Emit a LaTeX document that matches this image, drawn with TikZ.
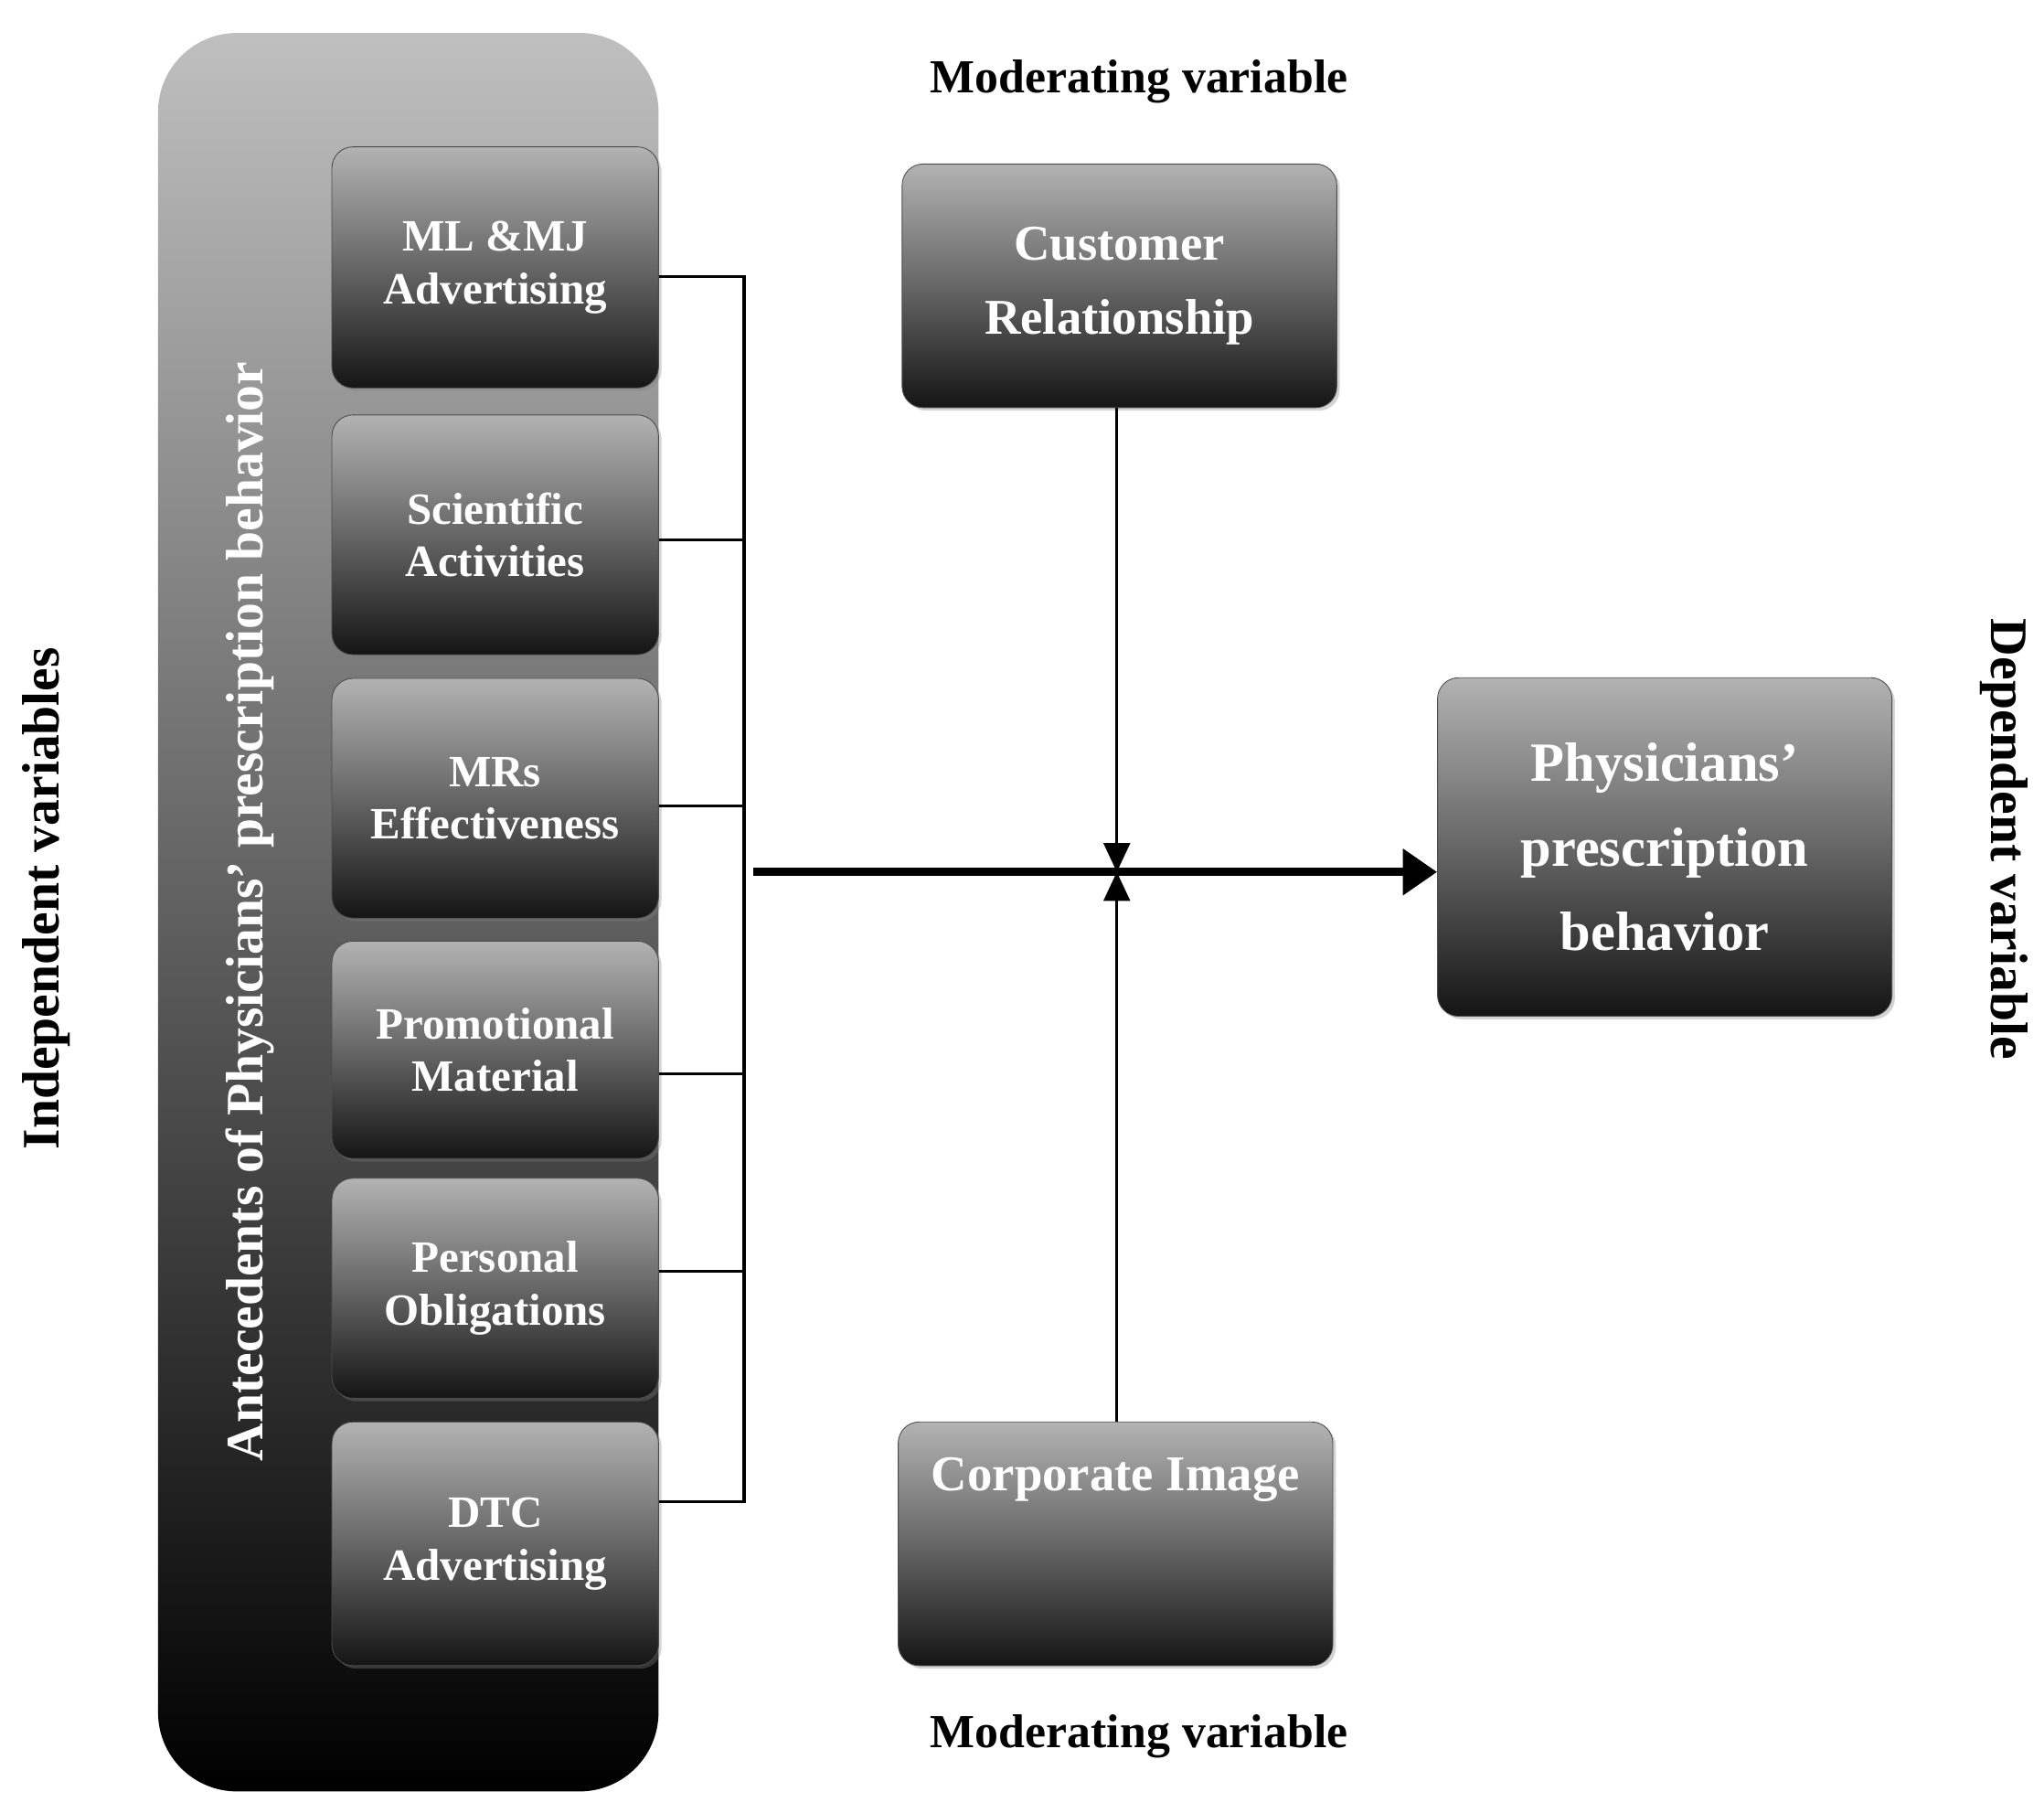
\documentclass[tikz,border=0pt]{standalone}
\usepackage{fontspec}
\setmainfont{Liberation Serif}
\usetikzlibrary{shadows,arrows.meta}
\begin{document}
\begin{tikzpicture}[x=1pt,y=-1pt,
  box/.style={rounded corners=16pt,top color=black!30,bottom color=black!92,middle color=black!60,
    draw=black!70,line width=0.6pt,drop shadow={opacity=0.35},text=white,font=\bfseries\fontsize{34}{40}\selectfont,align=center,inner sep=0pt},
  lab/.style={font=\bfseries\fontsize{36}{42}\selectfont},
  ln/.style={line width=2.2pt}]
\useasboundingbox (0,0) rectangle (1552,1376);
\shade[rounded corners=60pt,top color=black!25,bottom color=black] (120,25) rectangle (500,1360);
\node[rotate=90,text=white,font=\bfseries\fontsize{40}{46}\selectfont] (ant) at (190,692) {Antecedents of Physicians’ prescription behavior};
\node[rotate=90,lab,font=\bfseries\fontsize{40}{46}\selectfont] (iv) at (35,682) {Independent variables};
\node[rotate=-90,lab,font=\bfseries\fontsize{40}{46}\selectfont] (dv) at (1522,637) {Dependent variable};
\node[box,minimum width=248pt,minimum height=183pt] (b1) at (376,203) {ML \&MJ\\Advertising};
\node[box,minimum width=248pt,minimum height=182pt] (b2) at (376,406) {Scientific\\Activities};
\node[box,minimum width=248pt,minimum height=182pt] (b3) at (376,606) {MRs\\Effectiveness};
\node[box,minimum width=248pt,minimum height=165pt] (b4) at (376,797) {Promotional\\Material};
\node[box,minimum width=248pt,minimum height=167pt] (b5) at (376,978) {Personal\\Obligations};
\node[box,minimum width=248pt,minimum height=185pt] (b6) at (376,1172) {DTC\\Advertising};
\coordinate (t1) at (565,210); \coordinate (t2) at (565,410); \coordinate (t3) at (565,612);
\coordinate (t4) at (565,815); \coordinate (t5) at (565,965); \coordinate (t6) at (565,1140);
\draw[ln] (b1.east|-t1) -- (t1) -- (t6) -- (b6.east|-t6);
\draw[ln] (b2.east|-t2) -- (t2);
\draw[ln] (b3.east|-t3) -- (t3);
\draw[ln] (b4.east|-t4) -- (t4);
\draw[ln] (b5.east|-t5) -- (t5);
\node[box,minimum width=330pt,minimum height=185pt,font=\bfseries\fontsize{38}{56}\selectfont] (cr) at (850,217) {Customer\\Relationship};
\node[box,minimum width=330pt,minimum height=185pt,font=\bfseries\fontsize{38}{46}\selectfont] (ci) at (847,1172) {Corporate Image\\[60pt]};
\node[box,minimum width=345pt,minimum height=257pt,font=\bfseries\fontsize{42}{64}\selectfont] (pb) at (1264,643) {Physicians’\\prescription\\behavior};
\node[lab] (m1) at (865,62) {Moderating variable};
\node[lab] (m2) at (865,1318) {Moderating variable};
\coordinate (s) at (572,662); \coordinate (c) at (848,662);
\draw[line width=6pt,-{Triangle[length=26pt,width=34pt]}] (s) -- (pb.west|-s);
\draw[ln,-{Triangle[length=22pt,width=20pt]}] (cr.south-|c) -- (c);
\draw[ln,-{Triangle[length=22pt,width=20pt]}] (ci.north-|c) -- (c);
\end{tikzpicture}
\end{document}
